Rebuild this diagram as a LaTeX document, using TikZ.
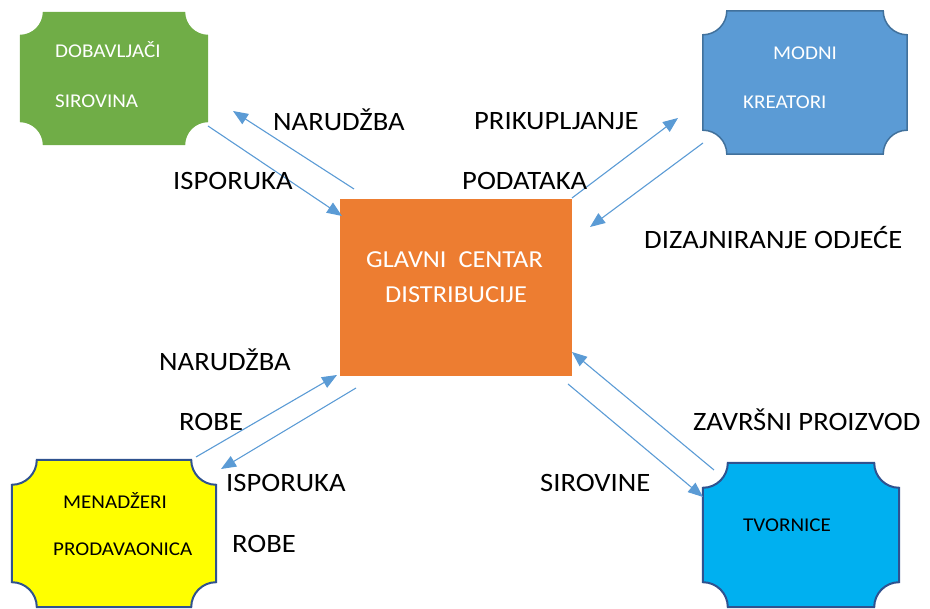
\documentclass[tikz,border=0pt]{standalone}
\usepackage{fontspec}
\setmainfont{Carlito}[FakeStretch=1.08]
\usetikzlibrary{arrows.meta}
\definecolor{cgreen}{HTML}{70AD47}
\definecolor{cblue}{HTML}{5B9BD5}
\definecolor{cblueb}{HTML}{41719C}
\definecolor{cyel}{HTML}{FFFF00}
\definecolor{cdark}{HTML}{2F528F}
\definecolor{ccyan}{HTML}{00B0F0}
\definecolor{corange}{HTML}{ED7D31}
\definecolor{carrow}{HTML}{5B9BD5}
\newcommand{\plaquepath}[2]{%
  ([xshift=#2]#1.north west) -- ([xshift=-#2]#1.north east)
  arc[start angle=180,end angle=270,radius=#2]
  -- ([yshift=#2]#1.south east)
  arc[start angle=90,end angle=180,radius=#2]
  -- ([xshift=#2]#1.south west)
  arc[start angle=0,end angle=90,radius=#2]
  -- ([yshift=-#2]#1.north west)
  arc[start angle=270,end angle=360,radius=#2] -- cycle}
\tikzset{
  boxarea/.style={rectangle,draw=none,inner sep=0pt},
  lbl/.style={anchor=base west,inner sep=0pt,font=\fontsize{26.5}{30}\selectfont},
  boxtxt/.style={anchor=base west,inner sep=0pt,font=\fontsize{19.5}{22}\selectfont},
  maintxt/.style={anchor=base west,inner sep=0pt,text=white,font=\fontsize{24.4}{28}\selectfont},
  flow/.style={draw=carrow,line width=1.1pt,-{Triangle[length=15pt,width=12pt]}}
}
\begin{document}
\begin{tikzpicture}[x=1pt,y=1pt]
\useasboundingbox (0,0) rectangle (930,609);
% box areas
\node[boxarea,minimum width=188pt,minimum height=133pt] (dob) at (114,530.5) {};
\node[boxarea,minimum width=204pt,minimum height=143pt] (mod) at (805,526.5) {};
\node[boxarea,minimum width=204pt,minimum height=147pt] (men) at (114,75.5) {};
\node[boxarea,minimum width=196pt,minimum height=144pt] (tvo) at (801,74) {};
\node[rectangle,fill=corange,minimum width=232pt,minimum height=177pt,inner sep=0pt] (gc) at (456,321.5) {};
% plaques
\fill[cgreen] \plaquepath{dob}{23pt};
\filldraw[fill=cblue,draw=cblueb,line width=1.5pt] \plaquepath{mod}{24pt};
\filldraw[fill=cyel,draw=cdark,line width=2pt] \plaquepath{men}{25pt};
\filldraw[fill=ccyan,draw=cdark,line width=2pt] \plaquepath{tvo}{25pt};
% box texts
\node[boxtxt,text=white] (t1) at (55,551) {DOBAVLJAČI};
\node[boxtxt,text=white] (t2) at (55,501) {SIROVINA};
\node[boxtxt,text=white] (t3) at (773,549) {MODNI};
\node[boxtxt,text=white] (t4) at (743,500) {KREATORI};
\node[boxtxt,text=black] (t5) at (63,100) {MENADŽERI};
\node[boxtxt,text=black] (t6) at (53,53) {PRODAVAONICA};
\node[boxtxt,text=black] (t7) at (743,77) {TVORNICE};
\node[maintxt] (t8) at (366,341) {GLAVNI~~CENTAR};
\node[maintxt] (t9) at (385,306) {DISTRIBUCIJE};
% arrow end points
\coordinate (a1s) at (208,483); \coordinate (a1e) at (342,393);
\coordinate (a2s) at (354,420); \coordinate (a2e) at (233,498);
\coordinate (a3s) at (572,411); \coordinate (a3e) at (678,491);
\coordinate (a4s) at (703,466); \coordinate (a4e) at (590,382);
\coordinate (a5s) at (196,152); \coordinate (a5e) at (337,234);
\coordinate (a6s) at (356,221); \coordinate (a6e) at (221,140);
\coordinate (a7s) at (568,225); \coordinate (a7e) at (703,112);
\coordinate (a8s) at (714,139); \coordinate (a8e) at (572,257);
\draw[flow] (a1s) -- (a1e);
\draw[flow] (a2s) -- (a2e);
\draw[flow] (a3s) -- (a3e);
\draw[flow] (a4s) -- (a4e);
\draw[flow] (a5s) -- (a5e);
\draw[flow] (a6s) -- (a6e);
\draw[flow] (a7s) -- (a7e);
\draw[flow] (a8s) -- (a8e);
% labels
\node[lbl] (l1) at (273,478) {NARUDŽBA};
\node[lbl] (l2) at (173,419) {ISPORUKA};
\node[lbl] (l3) at (474,479) {PRIKUPLJANJE};
\node[lbl] (l4) at (462,419) {PODATAKA};
\node[lbl] (l5) at (644,360) {DIZAJNIRANJE ODJEĆE};
\node[lbl] (l6) at (159,238) {NARUDŽBA};
\node[lbl] (l7) at (179,178) {ROBE};
\node[lbl] (l8) at (226,117) {ISPORUKA};
\node[lbl] (l9) at (232,56) {ROBE};
\node[lbl] (l10) at (540,117) {SIROVINE};
\node[lbl] (l11) at (693,178) {ZAVRŠNI PROIZVOD};
\end{tikzpicture}
\end{document}
